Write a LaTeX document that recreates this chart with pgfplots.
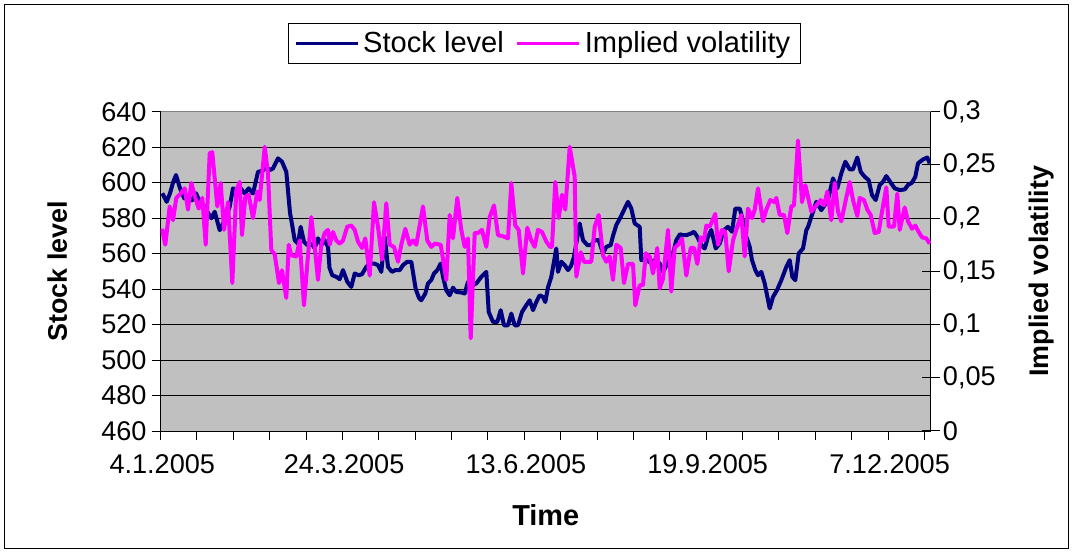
\documentclass[border=0pt]{standalone}
\usepackage{pgfplots}
\usepackage{pgfplotstable}
\pgfplotsset{compat=1.18}
\usepackage{fontspec}
\setmainfont{Liberation Sans}
\definecolor{stockc}{HTML}{000080}
\definecolor{volc}{HTML}{FF00FF}
\definecolor{plotbg}{HTML}{C0C0C0}

% t = position along the time axis, v = stock level
\pgfplotstableread{
t v
162.3 594
166.7 589.2
170 594
173 600
176 604.3
180 596.8
184.3 591.1
188 592
192 590
196 594
200 589
204 587
208 583
211.3 579.9
214.7 583.6
219.7 573.2
224 578
229.7 586.4
233 596.8
236.3 595.8
240.7 596.8
244.7 593.9
248.7 596.8
253 593.9
258 606.1
262.7 606.7
266.3 609
269.7 607.1
273 608
278 613.7
282 611.8
286.3 606.1
290 583
292.5 575
294.7 567.6
298 565.7
300.7 575.1
304 566.6
307.3 564.8
311.3 565.7
314.7 563
318 568.6
321.3 564.8
324.7 567.6
328 563.8
329.5 552
332.3 547.8
336.3 546.9
339.7 545.6
343 550.7
347.3 544.1
351.3 541.2
354.7 548.8
358.7 547.8
362 548.4
366.3 552.5
369.7 554.4
374 554.4
378 553.5
381.3 549.7
384.7 569.5
388 552.5
392 549.7
395.3 550.7
399.7 550.7
403 553.5
407.3 555.4
411.3 555.4
415.7 540
419 535
421.3 533.7
425.3 537.5
428 543.2
431.3 545.1
434 548.8
437.3 550.7
440.7 554.4
443 546.9
446.3 539.3
449.7 536.5
453 540.8
456.3 538.4
461.3 538.1
464.7 537.5
468 544.1
472 542
476.3 543.2
481.3 546.9
486.3 549.7
488.7 527.1
493 521.5
497.3 521.5
500.7 528.1
504 519.6
508 519.6
511.3 526.2
514.7 519.6
518 519.6
522 527.1
526.3 530.9
529.7 533.7
533 528.1
536.3 532.7
539.7 536.5
543 535.6
545.3 532.7
548 541
551.3 546.9
556.3 562.9
558 549.7
561.3 555.4
564.7 553.5
568 550.7
571 553
574 558.2
577 568
579.7 577
583 567.6
587.3 564.8
591.3 564.8
594.7 567.6
598.7 567.6
603 560.1
606.3 563.8
610.7 564.8
613 570
616.3 576.1
620.7 580.7
624.7 585.4
628 589.2
631.3 585.4
634.7 577
639.7 575.1
641.3 556.3
645 557
650 555
654.7 556.3
659.7 554.4
663 549.7
668 555
673 560.1
676.3 567.6
680 571
682 570.4
686.3 570.4
691.3 571.4
694 572.3
697.3 569.5
701.3 564.8
704.7 562.9
708 569.5
711.3 573.3
715.7 562.9
719.7 565.7
724 573.3
728 575.1
732 572.3
735.3 585.4
739.7 585.4
742 580.7
746 570
749.7 563.8
752 556.3
755.3 550.7
758 547.8
761.3 549.7
764.7 543.2
769.7 529.1
773 535.6
777 539.4
781.3 545
786.3 552.5
789.7 556.3
792.3 546.9
795.3 545
798.7 560.1
803 562.9
806.3 573.2
808 575
811.3 580.7
816.3 589.2
821.3 584.5
824.7 587.4
828.7 592
833 602.4
837.3 596.8
841.3 605.2
845.3 611.8
849.7 607.5
853 607.5
857.3 614.2
860.7 606.1
864.7 603.3
868.7 601.4
872 593
875.7 590.2
879.7 598.7
883 600.5
886.3 603.7
890.7 600
894.7 596.8
899.7 595.8
904.7 596.2
908 598.7
912 600
915.3 603.3
918 610.9
923 613.1
927.3 614.2
929.7 610.9
}\stocktable

% t = position along the time axis, v = implied volatility
\pgfplotstableread{
t v
162 0.190
165.3 0.175
169.7 0.211
173 0.198
176.3 0.219
180.7 0.223
184.7 0.228
188 0.208
191.3 0.233
195.3 0.219
198.7 0.209
202.3 0.219
205.7 0.175
209.7 0.261
212.3 0.262
217.3 0.211
220.7 0.233
224 0.189
228 0.215
232.3 0.139
236.3 0.226
239.7 0.234
242 0.184
245.3 0.220
248.7 0.222
253 0.200
257.3 0.225
259.7 0.217
264.7 0.267
268 0.242
271.3 0.170
274.7 0.166
279 0.139
282 0.151
286.3 0.125
288.7 0.175
291.3 0.165
296.3 0.164
299.7 0.179
304 0.118
307.3 0.157
311.3 0.201
314.7 0.173
318 0.142
321.3 0.175
324.7 0.186
328 0.189
329.7 0.175
333 0.187
336.3 0.179
339.7 0.176
343 0.179
347.3 0.192
351.3 0.193
354.7 0.189
358 0.178
362 0.172
365.3 0.181
369.7 0.146
374 0.215
378 0.192
382 0.161
386.3 0.214
389.7 0.175
394 0.173
398 0.159
401.3 0.175
405.3 0.190
409.7 0.175
413 0.179
416.3 0.175
420 0.195
423 0.211
427.3 0.179
431.3 0.173
434.7 0.176
440.7 0.175
446.3 0.142
449.7 0.203
453 0.181
457.3 0.219
461.3 0.189
464.7 0.173
468 0.181
470.7 0.087
474.7 0.186
478 0.186
482 0.189
486.3 0.173
489.7 0.201
494 0.212
498 0.184
503 0.183
508 0.181
511.3 0.233
515.3 0.193
518.7 0.189
523 0.148
527.3 0.191
531.3 0.179
534.7 0.173
538 0.189
542 0.187
546.3 0.178
550 0.173
552 0.173
555.3 0.234
558.7 0.200
562 0.222
565.3 0.208
569.7 0.267
574.7 0.239
576.3 0.145
580.7 0.168
584 0.159
588 0.159
591.3 0.159
594.7 0.192
598.7 0.203
603 0.165
606.3 0.159
609.7 0.164
613 0.142
616.3 0.175
620.7 0.172
624 0.139
628 0.157
633 0.157
635.3 0.118
639.7 0.137
643 0.137
645.7 0.167
649.7 0.164
653 0.148
657.3 0.172
659.7 0.134
663 0.143
668 0.189
671.3 0.131
674.7 0.172
679 0.176
682 0.181
686.3 0.146
690.7 0.172
694 0.172
697.3 0.157
700.7 0.182
704 0.179
706.3 0.193
709.7 0.192
715.3 0.204
718 0.175
722 0.189
725.3 0.187
728.7 0.150
733 0.179
736.3 0.189
741.3 0.203
744.7 0.164
748 0.209
752 0.200
754.7 0.208
758 0.228
763 0.197
766.3 0.208
770.3 0.217
774.7 0.215
776.3 0.219
779.7 0.203
784 0.203
787.3 0.186
791.3 0.211
794 0.212
798 0.273
802 0.215
805.3 0.231
808 0.220
811.3 0.206
816.3 0.212
820.7 0.217
824 0.212
827.3 0.225
831.3 0.198
834.7 0.233
838 0.206
841.3 0.197
845.3 0.215
849.7 0.234
853 0.217
857.3 0.202
859.7 0.219
864 0.217
867.3 0.208
870.7 0.203
874.7 0.186
878.7 0.187
882 0.206
886.3 0.229
888.7 0.192
894 0.192
897.3 0.223
899.7 0.189
904.7 0.210
908 0.197
912 0.190
915.3 0.193
918.7 0.187
922 0.182
926.3 0.181
929.7 0.176
}\voltable

\pgfplotsset{
  common/.style={
    width=385.15bp, height=159.65bp, scale only axis,
    at={(80.3bp,61bp)}, anchor=south west,
    xmin=160.6, xmax=930.9,
    axis line style={-, black, line width=0.5bp},
    tick style={black, line width=0.5bp},
    tick label style={font=\fontsize{13.6}{16}\selectfont},
    /pgf/number format/assume math mode=true,
  },
}

\begin{document}
\begin{tikzpicture}
\useasboundingbox (0,0) rectangle (536.5bp,276.5bp);
\draw[black, line width=0.5bp] (2.25bp,2.25bp) rectangle (534.25bp,274.25bp);

\begin{axis}[
  common,
  ymin=460, ymax=640,
  axis y line*=left, axis x line*=bottom,
  axis background/.style={fill=plotbg},
  ytick={460,480,...,640},
  ymajorgrids, major grid style={black, line width=0.5bp},
  tick align=outside, major tick length=4.5bp, minor tick length=4.5bp,
  xtick={162.25,344.1,525.9,707.7,889.6},
  xticklabels={4.1.2005,24.3.2005,13.6.2005,19.9.2005,7.12.2005},
  major x tick style={draw=none},
  minor xtick={160.6,196.97,233.34,269.71,306.08,342.45,378.82,415.19,451.56,487.93,524.3,560.67,597.04,633.41,669.78,706.15,742.52,778.89,815.26,851.63,888,924.37},
  minor x tick style={black, line width=0.5bp},
  xticklabel style={yshift=-4bp},
  yticklabel style={xshift=1bp},
  xlabel={Time},
  ylabel={Stock level},
  every axis x label/.style={at={(axis description cs:0.5,-0.263)}, anchor=center,
    font=\bfseries\fontsize{14.5}{17}\selectfont},
  every axis y label/.style={at={(axis description cs:-0.134,0.5)}, anchor=center, rotate=90,
    font=\bfseries\fontsize{13.5}{16}\selectfont},
]
\addplot[stockc, line width=2bp, line join=round] table[x=t, y=v] {\stocktable};
\end{axis}

\begin{axis}[
  common,
  ymin=0, ymax=0.3,
  axis y line*=right, axis x line=none,
  ytick={0,0.05,0.1,0.15,0.2,0.25,0.3},
  yticklabels={0,{0,05},{0,1},{0,15},{0,2},{0,25},{0,3}},
  yticklabel style={xshift=-2bp},
  tick align=center, major tick length=9bp,
  ylabel={Implied volatility},
  every axis y label/.style={at={(axis description cs:1.143,0.5)}, anchor=center, rotate=90,
    font=\bfseries\fontsize{13.5}{16}\selectfont},
  legend columns=2,
  legend style={at={(0.498,1.2136)}, anchor=center, draw=black, line width=0.5bp, fill=white,
    font=\fontsize{14.6}{17}\selectfont, inner xsep=3bp, inner ysep=2bp,
    /tikz/every even column/.append style={column sep=4bp}},
  legend image code/.code={\draw[#1, line width=1.5bp] (0bp,0bp) -- (31bp,0bp);},
]
\addlegendimage{stockc}
\addlegendentry{Stock level}
\addplot[volc, line width=2bp, line join=round] table[x=t, y=v] {\voltable};
\addlegendentry{Implied volatility}
\draw[gray, line width=0.5bp] (rel axis cs:0,1) -- (rel axis cs:1,1);
\end{axis}
\end{tikzpicture}
\end{document}
